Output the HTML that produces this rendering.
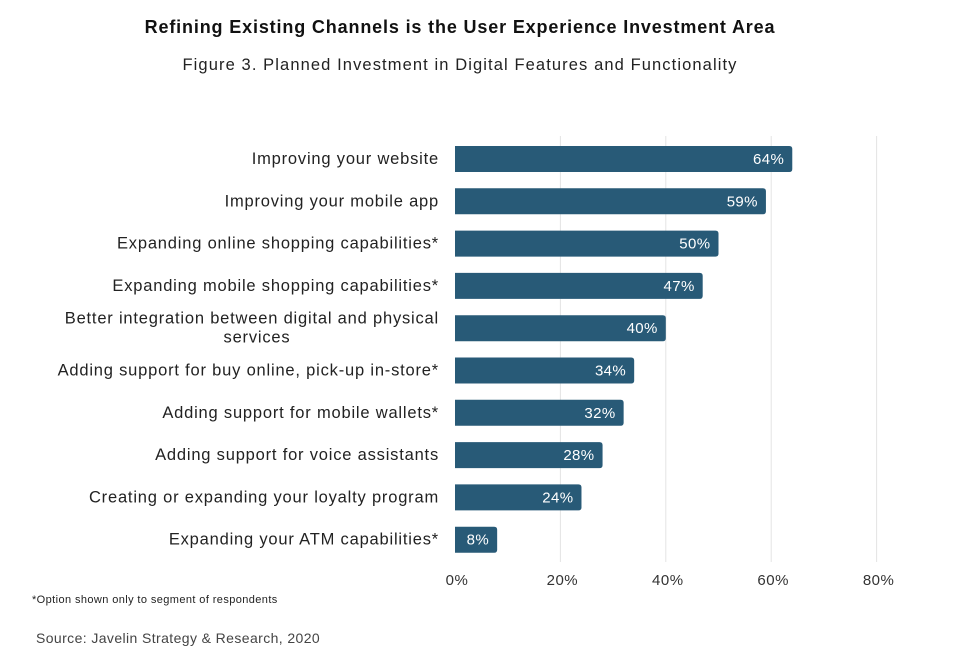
<!DOCTYPE html>
<html><head><meta charset="utf-8"><style>
body{margin:0;background:#fff;width:960px;height:656px;overflow:hidden;font-family:"Liberation Sans",sans-serif;color:#222}
</style></head><body>
<svg width="960" height="656" id="c" style="font-family:'Liberation Sans',sans-serif">
<text x="460" y="33" text-anchor="middle" font-size="18" letter-spacing="0.85" font-weight="bold" fill="#111">Refining Existing Channels is the User Experience Investment Area</text>
<text x="460" y="70" text-anchor="middle" font-size="16.5" letter-spacing="1.1" fill="#222">Figure 3. Planned Investment in Digital Features and Functionality</text>
<text x="32" y="603" font-size="11" letter-spacing="0.4" fill="#222">*Option shown only to segment of respondents</text>
<text x="36" y="643" font-size="14" letter-spacing="0.4" fill="#444">Source: Javelin Strategy &amp; Research, 2020</text>
</svg>
<script>
const categories=[["Improving your website"],["Improving your mobile app"],["Expanding online shopping capabilities*"],["Expanding mobile shopping capabilities*"],["Better integration between digital and physical","services"],["Adding support for buy online, pick-up in-store*"],["Adding support for mobile wallets*"],["Adding support for voice assistants"],["Creating or expanding your loyalty program"],["Expanding your ATM capabilities*"]];
const values=[64,59,50,47,40,34,32,28,24,8];
const ticks=[0,20,40,60,80];
const svg=document.getElementById('c');const NS='http://www.w3.org/2000/svg';
const x0=455,ppu=5.27,y0=146,step=42.3,bh=26;
const xs=v=>x0+v*ppu;
function mk(t,a){const e=document.createElementNS(NS,t);for(const k in a)e.setAttribute(k,a[k]);svg.appendChild(e);return e;}
ticks.forEach(t=>{
 if(t>0){const g=mk('line',{x1:xs(t),x2:xs(t),y1:136,y2:562,stroke:'#e4e4e4','stroke-width':1});
 
 }
 const l=mk('text',{x:xs(t)+2,y:585,'text-anchor':'middle','font-size':15,'letter-spacing':0.5,fill:'#333'});l.textContent=t+'%';
 
 
});
values.forEach((v,i)=>{
 const y=y0+i*step,w=xs(v)-x0;
 const b=mk('path',{d:`M${x0},${y}H${x0+w-3}Q${x0+w},${y} ${x0+w},${y+3}V${y+bh-3}Q${x0+w},${y+bh} ${x0+w-3},${y+bh}H${x0}Z`,fill:'#285a77'});
 
 
 const t=mk('text',{x:x0+w-8,y:y+bh/2+5,'text-anchor':'end','font-size':15,'letter-spacing':0.4,fill:'#fff'});t.textContent=v+'%';
 
 
 const lines=categories[i];
 lines.forEach((s,j)=>{
  const yy=y+bh/2+5+(lines.length>1?(j-0.5)*19:0);
  const c=mk('text',{x:439,y:yy,'text-anchor':lines.length>1&&j==1?'middle':'end','font-size':16.5,'letter-spacing':0.8,fill:'#222'});
  if(lines.length>1&&j==1)c.setAttribute('x',257);
  c.textContent=s;
  
  
 });
});
</script>
</body></html>
